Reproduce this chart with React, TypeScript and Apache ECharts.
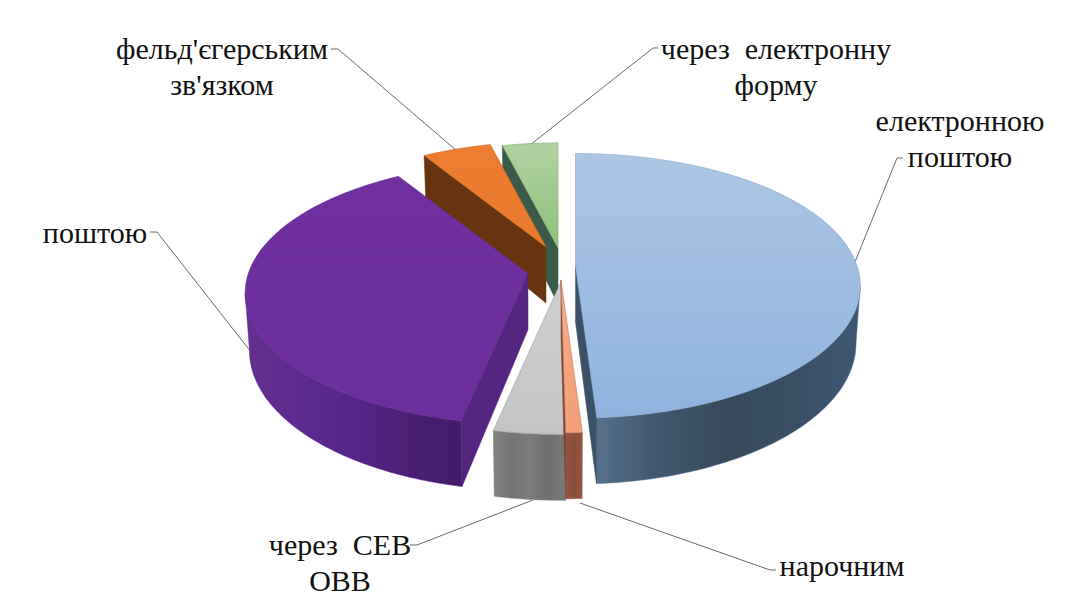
import React, { useEffect, useRef } from "react";
import * as echarts from "echarts";

// Clockwise from 12 o'clock, in percent
const categories = ["електронною поштою", "нарочним", "через СЕВ ОВВ", "поштою", "фельд'єгерським зв'язком", "через електронну форму"];
const values = [49.0, 0.8, 3.5, 38.0, 4.85, 3.9];

// Layout of the projected pie
const apexX = [575.5, 561, 561, 528, 546, 558];
const apexY = [266, 280, 281.5, 273.5, 247, 248];
const depthScale = [0.995, 1, 1, 0.988, 0.93, 0.93];
const drawOrder = [5, 4, 0, 3, 2, 1];
const RX = 283, RY = 130, PERSPECTIVE = 0.15, WALL = 56, WALL_TAPER = 0.985;
const SILHOUETTE = Math.acos(-PERSPECTIVE);

// Styles
const topFrom = ["#aec6e4", "#f6ab88", "#cfcfcf", "#7030a0", "#ed7d31", "#b2d2a2"];
const topTo = ["#8fb3df", "#f29f78", "#c4c4c4", "#6c2e9c", "#ea7a2e", "#8fbf7c"];
const arcColors = [
  ["#56708c", "#3f566c", "#374a5c", "#3a4f64", "#3e5872"],
  ["#94543f", "#8a4f3d", "#94543f"],
  ["#828282", "#747474", "#7c7c7c", "#6e6e6e", "#7a7a7a"],
  ["#63308f", "#5e2a90", "#54258a", "#4a1f74", "#431b69"],
  ["#66330e", "#66330e"],
  ["#3c5a46", "#3c5a46"],
];
const radialColors = ["#3a5168", "#7c4535", "#6f6f6f", "#54257f", "#67340f", "#3b5a47"];
const edgeColors = ["#86a4c6", "#c07a5c", "#9c9c9c", "#5b2685", "#c96522", "#84a876"];

// Labels
const labelTexts = ["фельд'єгерським\nзв'язком", "через  електронну\nформу", "електронною\nпоштою", "поштою", "через  СЕВ\nОВВ", "нарочним"];
const labelX = [222, 776, 960, 95, 340, 842];
const labelY = [66, 66, 138, 232, 562, 565];
const leaderLines = [
  [[331, 49], [338, 49], [457, 151]],
  [[530, 145], [653, 48], [658, 48]],
  [[855, 262], [897, 158], [903, 158]],
  [[150, 232], [157, 232], [251, 352]],
  [[410, 545], [417, 545], [533, 500]],
  [[580, 503], [770, 570], [776, 570]],
];

const total = values.reduce((a, b) => a + b, 0);
const starts: number[] = [];
values.reduce((acc, v, i) => {
  starts[i] = (acc / total) * Math.PI * 2;
  return acc + v;
}, 0);

function project(i: number, t: number): number[] {
  const p = depthScale[i] / (1 + PERSPECTIVE * Math.cos(t));
  return [apexX[i] + RX * Math.sin(t) * p, apexY[i] - RY * Math.cos(t) * p];
}
function wallHeight(i: number, t: number): number {
  return WALL / (1 + PERSPECTIVE * Math.cos(t));
}
function down(i: number, t: number, pt: number[]): number[] {
  return [apexX[i] + (pt[0] - apexX[i]) * WALL_TAPER, pt[1] + wallHeight(i, t)];
}

function renderSlice(params: any, api: any) {
  const i = drawOrder[params.dataIndex];
  const a0 = starts[i];
  const a1 = a0 + (api.value(0) / total) * Math.PI * 2;
  const step = Math.PI / 360;
  const apex = [apexX[i], apexY[i]];
  const children: any[] = [];

  // outer wall, between the two silhouette points of the disc
  const w0 = Math.max(a0, SILHOUETTE);
  const w1 = Math.min(a1, Math.PI * 2 - SILHOUETTE);
  if (w1 > w0) {
    const upper: number[][] = [];
    const lower: number[][] = [];
    for (let t = w0; t < w1 + step; t += step) {
      const tt = Math.min(t, w1);
      const pt = project(i, tt);
      upper.push(pt);
      lower.push(down(i, tt, pt));
    }
    const cols = arcColors[i];
    children.push({
      type: "polygon",
      shape: { points: upper.concat(lower.reverse()) },
      style: {
        fill: new echarts.graphic.LinearGradient(
          i === 0 ? 1 : 0, 0, i === 0 ? 0 : 1, 0,
          cols.map((c, k) => ({ offset: k / (cols.length - 1), color: i === 0 ? cols[cols.length - 1 - k] : c })),
        ),
        stroke: cols[0],
        lineWidth: 0.5,
      },
    });
  }

  // radial walls that face the viewer
  const mid = project(i, (a0 + a1) / 2);
  [a0, a1].forEach((t) => {
    const p = project(i, t);
    const ex = p[0] - apex[0];
    const ey = p[1] - apex[1];
    const inner = ex * (mid[1] - apex[1]) - ey * (mid[0] - apex[0]);
    if (inner * ex < 0) {
      children.push({
        type: "polygon",
        shape: { points: [apex, p, down(i, t, p), [apex[0], apex[1] + WALL]] },
        style: { fill: radialColors[i], stroke: radialColors[i], lineWidth: 0.5 },
      });
    }
  });

  // top face
  const face: number[][] = [apex];
  for (let t = a0; t < a1 + step; t += step) face.push(project(i, Math.min(t, a1)));
  children.push({
    type: "polygon",
    shape: { points: face },
    style: {
      fill: new echarts.graphic.LinearGradient(0, 0, 0, 1, [
        { offset: 0, color: topFrom[i] },
        { offset: 1, color: topTo[i] },
      ]),
      stroke: edgeColors[i],
      lineWidth: 0.6,
    },
  });
  return { type: "group", children };
}

export default function App() {
  const ref = useRef<HTMLDivElement>(null);
  useEffect(() => {
    document.body.style.margin = "0";
    const chart = echarts.init(ref.current!, undefined, { renderer: "svg" });
    chart.setOption({
      animation: false,
      backgroundColor: "#ffffff",
      series: [
        {
          type: "custom",
          coordinateSystem: "none",
          name: "share",
          renderItem: renderSlice,
          data: drawOrder.map((i) => ({ name: categories[i], value: [values[i]] })),
          silent: true,
          clip: false,
        },
      ],
      graphic: [
        ...leaderLines.map((points) => ({
          type: "polyline",
          shape: { points },
          style: { stroke: "#6a6a6a", lineWidth: 1, fill: "none" },
          silent: true,
        })),
        ...labelTexts.map((text, i) => ({
          type: "text",
          x: labelX[i],
          y: labelY[i],
          silent: true,
          style: {
            text,
            fill: "#111111",
            font: '30px "Liberation Serif"',
            fontFamily: "Liberation Serif",
            fontSize: 30,
            lineHeight: 36,
            align: "center",
            verticalAlign: "middle",
          },
        })),
      ],
    });
    return () => chart.dispose();
  }, []);
  return <div ref={ref} style={{ width: 1067, height: 600 }} />;
}
